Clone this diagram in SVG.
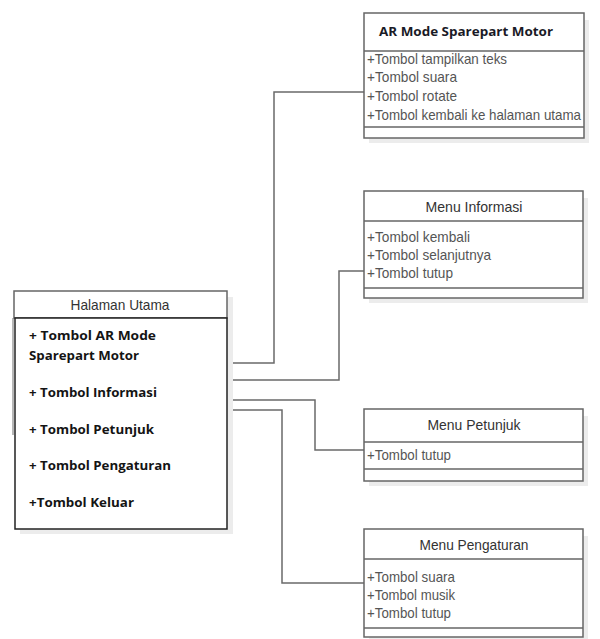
<svg xmlns="http://www.w3.org/2000/svg" width="600" height="639" viewBox="0 0 600 639">
<style>
.bg{fill:#ffffff}
.shadow{fill:#ececec}
.box{fill:#ffffff;stroke:#666666;stroke-width:1.5}
.line{stroke:#666666;stroke-width:1.5;fill:none}
.body{fill:#ffffff;stroke:#222222;stroke-width:1.5}
.conn{stroke:#6a6a6a;stroke-width:1.5;fill:none}
.title{font-family:"Liberation Sans",Arial,sans-serif;font-size:15px;fill:#333333;text-anchor:middle}
.btitle{font-family:"Open Sans","Liberation Sans",sans-serif;font-size:13px;font-weight:bold;fill:#1a1a26}
.attr{font-family:"Liberation Sans",Arial,sans-serif;font-size:14.5px;fill:#555555}
.main{font-family:"Open Sans","Liberation Sans",sans-serif;font-size:12.5px;font-weight:bold;fill:#141414}
</style>
<rect class="bg" x="0" y="0" width="600" height="639"/>
<g id="connectors">
<path class="conn" d="M227,363 H274 V92 H364"/>
<path class="conn" d="M227,380 H339 V271 H364"/>
<path class="conn" d="M227,400 H315 V450 H364"/>
<path class="conn" d="M227,410 H282 V583 H364"/>
</g>
<g id="halaman-utama">
<rect class="shadow" x="20" y="297" width="213" height="237"/>
<line x1="13" y1="318" x2="13" y2="435" stroke="#888888" stroke-width="1.2"/>
<rect class="box" x="14" y="291" width="213" height="27"/>
<rect class="body" x="15" y="318" width="212" height="211"/>
<text class="title" x="120" y="310" textLength="99" lengthAdjust="spacingAndGlyphs">Halaman Utama</text>
<text class="main" x="29" y="340" textLength="127" lengthAdjust="spacingAndGlyphs">+ Tombol AR Mode</text>
<text class="main" x="29" y="360" textLength="110" lengthAdjust="spacingAndGlyphs">Sparepart Motor</text>
<text class="main" x="29" y="397" textLength="128" lengthAdjust="spacingAndGlyphs">+ Tombol Informasi</text>
<text class="main" x="29" y="434" textLength="125" lengthAdjust="spacingAndGlyphs">+ Tombol Petunjuk</text>
<text class="main" x="29" y="470" textLength="142" lengthAdjust="spacingAndGlyphs">+ Tombol Pengaturan</text>
<text class="main" x="29" y="507" textLength="105" lengthAdjust="spacingAndGlyphs">+Tombol Keluar</text>
</g>
<g id="ar-mode">
<rect class="shadow" x="369" y="20" width="220" height="123"/>
<rect class="box" x="364" y="13" width="220" height="125"/>
<line class="line" x1="364" y1="51" x2="584" y2="51"/>
<line class="line" x1="364" y1="127" x2="584" y2="127"/>
<text class="btitle" x="379" y="36" textLength="174" lengthAdjust="spacingAndGlyphs">AR Mode Sparepart Motor</text>
<text class="attr" x="367" y="64" textLength="140" lengthAdjust="spacingAndGlyphs">+Tombol tampilkan teks</text>
<text class="attr" x="367" y="82" textLength="90" lengthAdjust="spacingAndGlyphs">+Tombol suara</text>
<text class="attr" x="367" y="101" textLength="90" lengthAdjust="spacingAndGlyphs">+Tombol rotate</text>
<text class="attr" x="367" y="120" textLength="214" lengthAdjust="spacingAndGlyphs">+Tombol kembali ke halaman utama</text>
</g>
<g id="menu-informasi">
<rect class="shadow" x="369" y="198" width="219" height="105"/>
<rect class="box" x="364" y="191" width="219" height="107"/>
<line class="line" x1="364" y1="221" x2="583" y2="221"/>
<line class="line" x1="364" y1="288" x2="583" y2="288"/>
<text class="title" x="474" y="212" textLength="97" lengthAdjust="spacingAndGlyphs">Menu Informasi</text>
<text class="attr" x="367" y="242" textLength="103" lengthAdjust="spacingAndGlyphs">+Tombol kembali</text>
<text class="attr" x="367" y="260" textLength="124" lengthAdjust="spacingAndGlyphs">+Tombol selanjutnya</text>
<text class="attr" x="367" y="278" textLength="86" lengthAdjust="spacingAndGlyphs">+Tombol tutup</text>
</g>
<g id="menu-petunjuk">
<rect class="shadow" x="369" y="416" width="219" height="70"/>
<rect class="box" x="364" y="409" width="219" height="72"/>
<line class="line" x1="364" y1="442" x2="583" y2="442"/>
<line class="line" x1="364" y1="469" x2="583" y2="469"/>
<text class="title" x="474" y="430" textLength="93" lengthAdjust="spacingAndGlyphs">Menu Petunjuk</text>
<text class="attr" x="367" y="460" textLength="84" lengthAdjust="spacingAndGlyphs">+Tombol tutup</text>
</g>
<g id="menu-pengaturan">
<rect class="shadow" x="369" y="536" width="219" height="106"/>
<rect class="box" x="364" y="529" width="219" height="108"/>
<line class="line" x1="364" y1="559" x2="583" y2="559"/>
<line class="line" x1="364" y1="628" x2="583" y2="628"/>
<text class="title" x="474" y="550" textLength="109" lengthAdjust="spacingAndGlyphs">Menu Pengaturan</text>
<text class="attr" x="367" y="582" textLength="88" lengthAdjust="spacingAndGlyphs">+Tombol suara</text>
<text class="attr" x="367" y="600" textLength="88" lengthAdjust="spacingAndGlyphs">+Tombol musik</text>
<text class="attr" x="367" y="618" textLength="84" lengthAdjust="spacingAndGlyphs">+Tombol tutup</text>
</g>
</svg>
